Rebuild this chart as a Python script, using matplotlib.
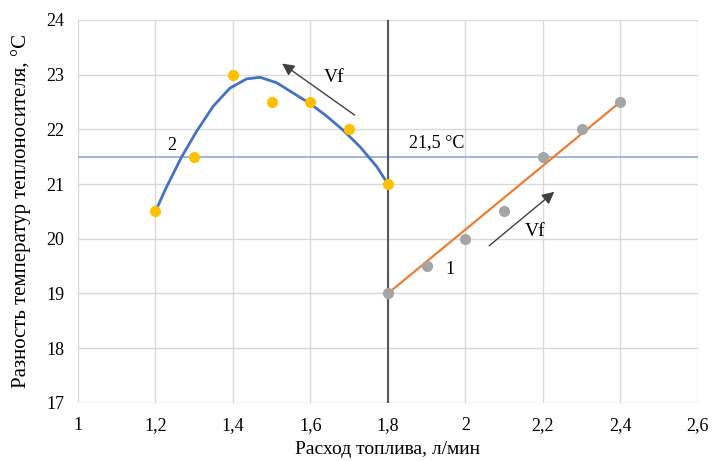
import numpy as np
import matplotlib.pyplot as plt

plt.rcParams["font.family"] = ["Liberation Serif", "DejaVu Serif"]

# series 2 (points and smoothed curve)
x2 = [1.2, 1.3, 1.4, 1.5, 1.6, 1.7, 1.8]
y2 = [20.5, 21.5, 23, 22.5, 22.5, 22, 21]
curve_x = [1.2, 1.229, 1.268, 1.306, 1.349, 1.392, 1.435, 1.47, 1.513,
           1.556, 1.599, 1.642, 1.685, 1.728, 1.771, 1.8]
curve_y = [20.5, 20.95, 21.5, 21.96, 22.42, 22.75, 22.92, 22.95, 22.85,
           22.66, 22.47, 22.24, 21.98, 21.68, 21.32, 21.0]

# series 1 (points and linear trend)
x1 = [1.8, 1.9, 2.0, 2.1, 2.2, 2.3, 2.4]
y1 = [19, 19.5, 20, 20.5, 21.5, 22, 22.5]
trend_x = [1.8, 2.4]
trend_y = [19.0, 22.5]

level = 21.5
split_x = 1.8

xticks = [1, 1.2, 1.4, 1.6, 1.8, 2, 2.2, 2.4, 2.6]
yticks = [17, 18, 19, 20, 21, 22, 23, 24]

fig = plt.figure(figsize=(7.15, 4.61), dpi=100)
ax = fig.add_axes([0.109, 0.126, 0.867, 0.831])

ax.set_xlim(1, 2.6)
ax.set_ylim(17, 24)
ax.set_xticks(xticks)
ax.set_yticks(yticks)
ax.set_xticklabels([str(t).replace(".", ",") for t in xticks], fontsize=13)
ax.set_yticklabels([str(t) for t in yticks], fontsize=13)
ax.grid(True, color="#d9d9d9", linewidth=1)
ax.set_axisbelow(True)
for s in ax.spines.values():
    s.set_visible(False)
ax.tick_params(length=0, pad=10)

ax.axhline(level, color="#8fa9d8", linewidth=1.2, zorder=2)
ax.axvline(split_x, color="#595959", linewidth=1.5, zorder=2)

ax.plot(curve_x, curve_y, color="#4472c4", linewidth=2,
        solid_joinstyle="round", solid_capstyle="round", zorder=3)
ax.plot(trend_x, trend_y, color="#ed7d31", linewidth=1.6, zorder=3)
ax.plot(x2, y2, "o", color="#ffc000", markersize=7, zorder=4)
ax.plot(x1, y1, "o", color="#a5a5a5", markersize=7, zorder=4)

arrow = dict(arrowstyle="-|>", color="#404040", linewidth=1, mutation_scale=18)
ax.annotate("", xy=(1.521, 23.23), xytext=(1.72, 22.23), arrowprops=arrow)
ax.annotate("", xy=(2.235, 20.89), xytext=(2.056, 19.84), arrowprops=arrow)

ax.text(1.66, 22.94, "Vf", fontsize=14, ha="center", va="center")
ax.text(2.18, 20.13, "Vf", fontsize=14, ha="center", va="center")
ax.text(1.243, 21.71, "2", fontsize=13, ha="center", va="center")
ax.text(1.96, 19.43, "1", fontsize=13, ha="center", va="center")
ax.text(1.925, 21.75, "21,5 °C", fontsize=13, ha="center", va="center")

ax.set_xlabel("Расход топлива, л/мин", fontsize=14, labelpad=5)
ax.set_ylabel("Разность температур теплоносителя, °С", fontsize=15, labelpad=11)

fig.savefig("out.png", dpi=100)
